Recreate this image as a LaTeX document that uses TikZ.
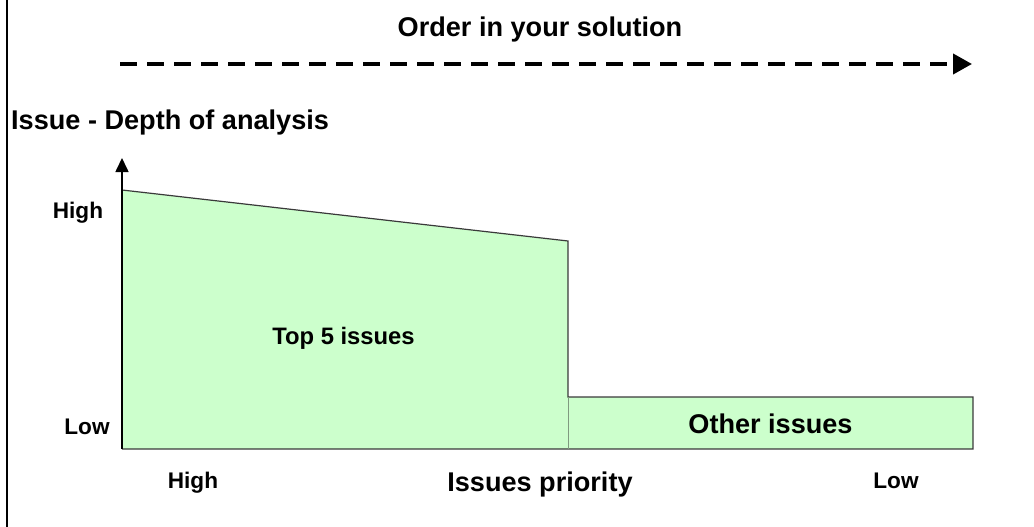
\documentclass[tikz,border=0pt]{standalone}
\usepackage{fontspec}
\setmainfont{Liberation Sans}
\usetikzlibrary{arrows.meta}
\definecolor{areagreen}{HTML}{CCFFCC}
\definecolor{edgegray}{HTML}{3A3A3A}
\definecolor{splitgray}{HTML}{7F9A7F}
\tikzset{
  lbl/.style={inner sep=0pt, anchor=base, font=\bfseries\fontsize{27.1}{30}\selectfont},
  smalllbl/.style={inner sep=0pt, anchor=base, font=\bfseries\fontsize{22.6}{26}\selectfont},
  midlbl/.style={inner sep=0pt, anchor=base, font=\bfseries\fontsize{23.8}{27}\selectfont},
  orderarrow/.style={line width=4pt, dash pattern=on 17pt off 10pt, -{Triangle[length=19pt,width=20pt]}},
  axisarrow/.style={line width=1.6pt, -{Triangle[length=14pt,width=13pt]}},
  area/.style={fill=areagreen, draw=none},
}
\begin{document}
\begin{tikzpicture}[x=1pt,y=-1pt]
  \useasboundingbox (0,0) rectangle (1034,527);
  % frame line on the left
  \draw[line width=2pt] (7,0) -- (7,527);

  % labels
  \node[lbl] (order) at (540,37) {Order in your solution};
  \node[lbl, anchor=base west] (depth) at (11,129) {Issue - Depth of analysis};
  \node[smalllbl] (yhigh) at (78,218) {High};
  \node[smalllbl] (ylow) at (87,434) {Low};
  \node[smalllbl] (xhigh) at (193,488) {High};
  \node[lbl] (prio) at (540,491) {Issues priority};
  \node[smalllbl] (xlow) at (896,488) {Low};

  % arrow showing the order
  \coordinate (ostart) at (120,64);
  \coordinate (oend) at (972,64);
  \draw[orderarrow] (ostart) -- (oend);

  % areas
  \coordinate (tl) at (122,190);
  \coordinate (tr) at (568,241);
  \coordinate (sm) at (568,397);
  \coordinate (str) at (973,397);
  \coordinate (sbr) at (973,449);
  \coordinate (bm) at (568,449);
  \coordinate (bl) at (122,449);
  \fill[area] (bl) -- (tl) -- (tr) -- (bm) -- cycle;
  \fill[area] (sm) rectangle (sbr);
  \draw[line width=1.2pt, edgegray] (tl) -- (tr) -- (sm) -- (str) -- (sbr) -- (bl);
  \draw[line width=0.8pt, splitgray] (sm) -- (bm);

  % vertical axis
  \coordinate (ytip) at (122,158);
  \draw[axisarrow] (bl) -- (ytip);

  \node[midlbl] (top) at (343.5,344) {Top 5 issues};
  \node[lbl] (other) at (770.5,433) {Other issues};
\end{tikzpicture}
\end{document}
